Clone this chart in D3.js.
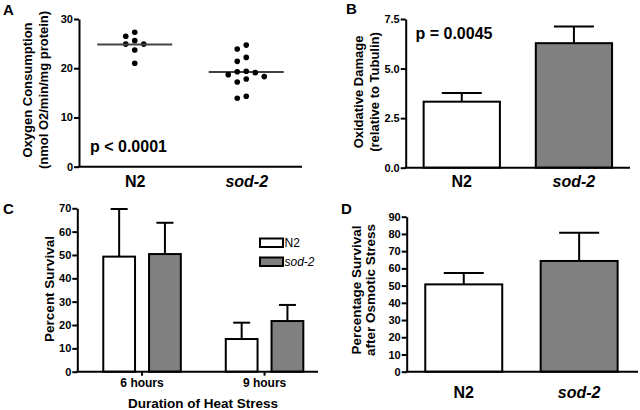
<!DOCTYPE html>
<html><head><meta charset="utf-8">
<script src="https://cdn.jsdelivr.net/npm/d3@7"></script>
<style>
body{margin:0;background:#fff;}
svg{display:block;font-family:"Liberation Sans",Arial,sans-serif;}
.axis path,.axis line{stroke:#000;stroke-width:2;}
.axis text{font-weight:bold;fill:#000;}
</style></head>
<body>
<svg id="chart" width="640" height="410"></svg>
<script>
// ---------- DATA ----------
const groupsAB = ["N2", "sod-2"];
// Panel A: oxygen consumption, individual points
const oxyN2 = [27.3, 26.5, 25.6, 24.9, 24.9, 23.7, 21.0];
const oxySod2 = [24.7, 23.9, 22.2, 21.4, 19.4, 19.3, 19.1, 18.7, 18.3, 17.8, 17.2, 14.3, 13.9];
const oxyTicks = [0, 10, 20, 30];
// Panel B: oxidative damage
const dmgMean = [3.33, 6.28];
const dmgErr = [0.44, 0.84];
const dmgTicks = [0, 2.5, 5.0, 7.5];
// Panel C: heat stress
const heatGroups = ["6 hours", "9 hours"];
const heatN2 = [49.3, 14.0];
const heatN2Err = [20.4, 7.0];
const heatSod2 = [50.4, 21.7];
const heatSod2Err = [13.4, 6.9];
const heatTicks = [0, 10, 20, 30, 40, 50, 60, 70];
// Panel D: osmotic stress
const osmMean = [50.7, 64.3];
const osmErr = [6.6, 16.4];
const osmTicks = [0, 10, 20, 30, 40, 50, 60, 70, 80, 90];

const GREY = "#808080";
const svg = d3.select("#chart");

function label(txt, x, y) {
  svg.append("text").attr("x", x).attr("y", y).attr("font-size", 15)
    .attr("font-weight", "bold").text(txt);
}
function catLabel(sel) {
  sel.selectAll("text").attr("font-size", 16)
    .attr("font-style", d => d === "sod-2" ? "italic" : "normal");
}
function yTitle(lines, x, yc, size, gap) {
  const t = svg.append("text")
    .attr("transform", `translate(${x},${yc}) rotate(-90)`)
    .attr("text-anchor", "middle").attr("font-weight", "bold")
    .attr("font-size", size);
  lines.forEach((l, i) => t.append("tspan").attr("x", 0).attr("dy", i === 0 ? 0 : gap).text(l));
}

// ---------- PANEL A ----------
{
  const y = d3.scaleLinear().domain([0, 30]).range([166.7, 19]);
  const x = d3.scalePoint().domain(groupsAB).range([79, 302]).padding(0.5);
  svg.append("g").attr("class", "axis").attr("transform", "translate(79,0)")
    .call(d3.axisLeft(y).tickValues(oxyTicks).tickSize(5).tickSizeOuter(0).tickPadding(1))
    .selectAll("text").attr("font-size", 11);
  const gx = svg.append("g").attr("class", "axis").attr("transform", "translate(0,166.7)")
    .call(d3.axisBottom(x).tickSize(0).tickPadding(9));
  catLabel(gx);
  gx.select(".domain").attr("d", "M78,0H302");

  const sets = [oxyN2, oxySod2];
  sets.forEach((vals, gi) => {
    const cx = x(groupsAB[gi]);
    const placed = [];
    const offs = [0, -1, 1, -2, 2, -3, 3];
    vals.forEach(v => {
      const py = y(v);
      for (const o of offs) {
        if (!placed.some(p => p.o === o && Math.abs(p.py - py) < 6)) {
          placed.push({ o, py });
          break;
        }
      }
    });
    svg.append("g").selectAll("circle").data(placed).join("circle")
      .attr("cx", d => cx + d.o * 9).attr("cy", d => d.py).attr("r", 2.8).attr("fill", "#000");
    const m = d3.mean(vals);
    svg.append("line").attr("x1", cx - 37.5).attr("x2", cx + 37.5)
      .attr("y1", y(m)).attr("y2", y(m))
      .attr("stroke", gi === 0 ? "#444" : "#000").attr("stroke-width", gi === 0 ? 2 : 1.6);
  });
  svg.append("text").attr("x", 90).attr("y", 152).attr("font-size", 16)
    .attr("font-weight", "bold").text("p < 0.0001");
  yTitle(["Oxygen Consumption", "(nmol O2/min/mg protein)"], 32, 90, 13, 16);
  label("A", 3, 15);
}

// ---------- PANEL B ----------
{
  const y = d3.scaleLinear().domain([0, 7.5]).range([167.7, 19]);
  const x = d3.scaleBand().domain(groupsAB).range([405.7, 630]).paddingInner(0.32).paddingOuter(0.16);
  svg.append("g").attr("class", "axis").attr("transform", "translate(405.7,0)")
    .call(d3.axisLeft(y).tickValues(dmgTicks).tickFormat(d3.format(".1f")).tickSize(5).tickSizeOuter(0).tickPadding(1))
    .selectAll("text").attr("font-size", 11);
  const bw = x.bandwidth();
  const g = svg.append("g");
  groupsAB.forEach((c, i) => {
    const cx = x(c) + bw / 2;
    g.append("line").attr("x1", cx).attr("x2", cx).attr("y1", y(dmgMean[i])).attr("y2", y(dmgMean[i] + dmgErr[i]))
      .attr("stroke", "#000").attr("stroke-width", 2);
    g.append("line").attr("x1", cx - 20).attr("x2", cx + 20).attr("y1", y(dmgMean[i] + dmgErr[i])).attr("y2", y(dmgMean[i] + dmgErr[i]))
      .attr("stroke", "#000").attr("stroke-width", 2);
    g.append("rect").attr("x", x(c)).attr("width", bw).attr("y", y(dmgMean[i]))
      .attr("height", y(0) - y(dmgMean[i])).attr("fill", i === 0 ? "#fff" : GREY)
      .attr("stroke", "#000").attr("stroke-width", 2);
  });
  const gx = svg.append("g").attr("class", "axis").attr("transform", "translate(0,167.7)")
    .call(d3.axisBottom(x).tickSize(0).tickPadding(8));
  catLabel(gx);
  gx.select(".domain").attr("d", "M404.7,0H630");
  svg.append("text").attr("x", 415.5).attr("y", 39).attr("font-size", 16)
    .attr("font-weight", "bold").text("p = 0.0045");
  yTitle(["Oxidative Damage", "(relative to Tubulin)"], 363, 92, 13, 16);
  label("B", 346, 14);
}

// ---------- PANEL C ----------
{
  const y = d3.scaleLinear().domain([0, 70]).range([371.7, 208.3]);
  const x0 = d3.scaleBand().domain(heatGroups).range([77.3, 329.3]).paddingInner(0.367).paddingOuter(0.212);
  const x1 = d3.scaleBand().domain(groupsAB).range([0, x0.bandwidth()]).paddingInner(0.306);
  svg.append("g").attr("class", "axis").attr("transform", "translate(77.3,0)")
    .call(d3.axisLeft(y).tickValues(heatTicks).tickSize(5).tickSizeOuter(0).tickPadding(1))
    .selectAll("text").attr("font-size", 11);
  const series = [[heatN2, heatN2Err], [heatSod2, heatSod2Err]];
  const g = svg.append("g");
  heatGroups.forEach((hg, gi) => {
    groupsAB.forEach((c, si) => {
      const v = series[si][0][gi], e = series[si][1][gi];
      const bx = x0(hg) + x1(c), bw = x1.bandwidth(), cx = bx + bw / 2;
      g.append("line").attr("x1", cx).attr("x2", cx).attr("y1", y(v)).attr("y2", y(v + e))
        .attr("stroke", "#000").attr("stroke-width", 2);
      g.append("line").attr("x1", cx - 8.5).attr("x2", cx + 8.5).attr("y1", y(v + e)).attr("y2", y(v + e))
        .attr("stroke", "#000").attr("stroke-width", 2);
      g.append("rect").attr("x", bx).attr("width", bw).attr("y", y(v))
        .attr("height", y(0) - y(v)).attr("fill", si === 0 ? "#fff" : GREY)
        .attr("stroke", "#000").attr("stroke-width", 2);
    });
  });
  const gx = svg.append("g").attr("class", "axis").attr("transform", "translate(0,371.7)")
    .call(d3.axisBottom(x0).tickSize(4).tickPadding(3));
  gx.selectAll("text").attr("font-size", 12);
  gx.select(".domain").attr("d", "M76.3,0H318");
  svg.append("text").attr("x", 203).attr("y", 408).attr("text-anchor", "middle")
    .attr("font-size", 13.5).attr("font-weight", "bold").text("Duration of Heat Stress");
  yTitle(["Percent Survival"], 54, 289, 13.5, 15);
  // legend
  const lg = svg.append("g");
  groupsAB.forEach((c, i) => {
    lg.append("rect").attr("x", 260).attr("y", 238.5 + i * 19).attr("width", 23).attr("height", 8.5)
      .attr("fill", i === 0 ? "#fff" : GREY).attr("stroke", "#000").attr("stroke-width", 2);
    lg.append("text").attr("x", 284.5).attr("y", 247 + i * 19).attr("font-size", 12)
      .attr("font-style", i === 0 ? "normal" : "italic").text(c);
  });
  label("C", 3, 214);
}

// ---------- PANEL D ----------
{
  const y = d3.scaleLinear().domain([0, 90]).range([371.7, 216.7]);
  const x = d3.scaleBand().domain(groupsAB).range([406.7, 636.2]).paddingInner(0.333).paddingOuter(0.161);
  svg.append("g").attr("class", "axis").attr("transform", "translate(406.7,0)")
    .call(d3.axisLeft(y).tickValues(osmTicks).tickSize(5).tickSizeOuter(0).tickPadding(1))
    .selectAll("text").attr("font-size", 11);
  const bw = x.bandwidth();
  const g = svg.append("g");
  groupsAB.forEach((c, i) => {
    const cx = x(c) + bw / 2;
    g.append("line").attr("x1", cx).attr("x2", cx).attr("y1", y(osmMean[i])).attr("y2", y(osmMean[i] + osmErr[i]))
      .attr("stroke", "#000").attr("stroke-width", 2);
    g.append("line").attr("x1", cx - 20).attr("x2", cx + 20).attr("y1", y(osmMean[i] + osmErr[i])).attr("y2", y(osmMean[i] + osmErr[i]))
      .attr("stroke", "#000").attr("stroke-width", 2);
    g.append("rect").attr("x", x(c)).attr("width", bw).attr("y", y(osmMean[i]))
      .attr("height", y(0) - y(osmMean[i])).attr("fill", i === 0 ? "#fff" : GREY)
      .attr("stroke", "#000").attr("stroke-width", 2);
  });
  const gx = svg.append("g").attr("class", "axis").attr("transform", "translate(0,371.7)")
    .call(d3.axisBottom(x).tickSize(0).tickPadding(15));
  catLabel(gx);
  gx.select(".domain").attr("d", "M405.7,0H638");
  yTitle(["Percentage Survival", "after Osmotic Stress"], 361, 290, 13.5, 14);
  label("D", 341, 214);
}
</script>
</body></html>
